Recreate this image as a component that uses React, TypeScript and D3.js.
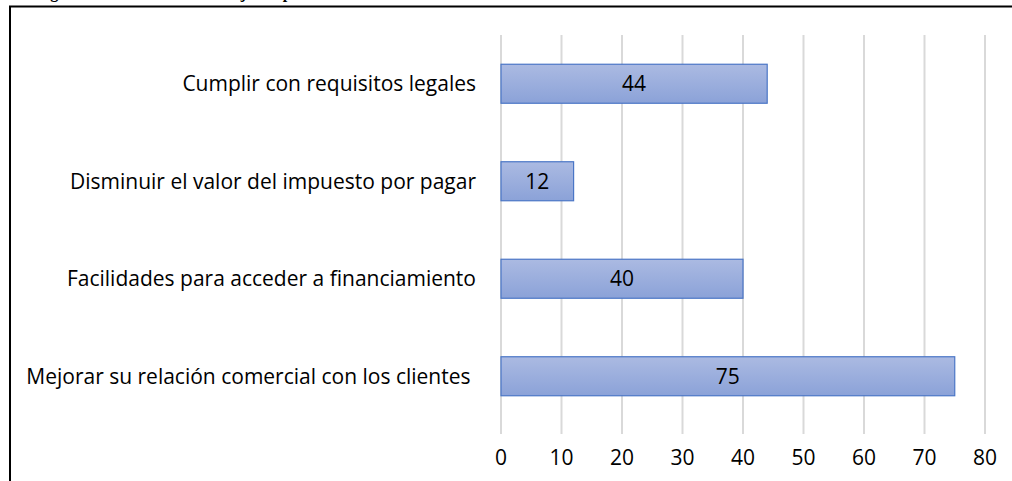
import React, { useEffect, useRef } from 'react';
import * as d3 from 'd3';

// categories (top to bottom) and their values
const categories = [
  'Cumplir con requisitos legales',
  'Disminuir el valor del impuesto por pagar',
  'Facilidades para acceder a financiamiento',
  'Mejorar su relación comercial con los clientes ',
];
const values = [44, 12, 40, 75];
const xTicks = [0, 10, 20, 30, 40, 50, 60, 70, 80];

const App = () => {
  const chartRef = useRef<SVGSVGElement>(null);

  useEffect(() => {
    drawChart();
  }, []);

  const drawChart = () => {
    const width = 1012;
    const height = 481;
    const svg = d3.select(chartRef.current);
    svg.selectAll('*').remove();

    const font = '"Open Sans", "Noto Sans", sans-serif';
    const fs = 21;

    // caption above, clipped by the page top
    svg.append('text')
      .attr('x', 36)
      .attr('y', -2)
      .attr('font-family', '"Liberation Serif", serif')
      .attr('font-weight', 'bold')
      .attr('font-size', 16)
      .text('Figura 10. Beneficios de manejar impuestos');

    // frame lines
    svg.append('line')
      .attr('x1', 9).attr('x2', width)
      .attr('y1', 6.5).attr('y2', 6.5)
      .attr('stroke', '#000').attr('stroke-width', 2);
    svg.append('line')
      .attr('x1', 10).attr('x2', 10)
      .attr('y1', 6).attr('y2', height)
      .attr('stroke', '#000').attr('stroke-width', 2);

    const x = d3.scaleLinear().domain([0, 80]).range([501, 985]);
    const y = d3.scaleBand()
      .domain(categories)
      .range([35, 425])
      .paddingInner(0.6)
      .paddingOuter(0.3);

    const defs = svg.append('defs');
    defs.append('linearGradient')
      .attr('id', 'bar-gradient')
      .attr('x1', '0%').attr('x2', '0%')
      .attr('y1', '0%').attr('y2', '100%')
      .html(`
        <stop offset="0%" stop-color="#abbae2" />
        <stop offset="100%" stop-color="#8ba2d8" />
      `);

    // gridlines
    svg.selectAll('.grid')
      .data(xTicks)
      .enter()
      .append('line')
      .attr('class', 'grid')
      .attr('x1', d => x(d)).attr('x2', d => x(d))
      .attr('y1', 35).attr('y2', 434)
      .attr('stroke', '#d9d9d9')
      .attr('stroke-width', 2);

    // bars
    svg.selectAll('.bar')
      .data(values)
      .enter()
      .append('rect')
      .attr('class', 'bar')
      .attr('x', x(0))
      .attr('y', (d, i) => y(categories[i])!)
      .attr('width', d => x(d) - x(0))
      .attr('height', y.bandwidth())
      .attr('fill', 'url(#bar-gradient)')
      .attr('stroke', '#4a76c6')
      .attr('stroke-width', 1.2);

    // value labels
    svg.selectAll('.val')
      .data(values)
      .enter()
      .append('text')
      .attr('class', 'val')
      .attr('x', d => (x(0) + x(d)) / 2)
      .attr('y', (d, i) => y(categories[i])! + y.bandwidth() / 2)
      .attr('dy', '0.36em')
      .attr('text-anchor', 'middle')
      .attr('font-family', font)
      .attr('font-size', fs)
      .attr('fill', '#000')
      .text(d => d);

    // category labels
    svg.selectAll('.cat')
      .data(categories)
      .enter()
      .append('text')
      .attr('class', 'cat')
      .attr('x', 476)
      .attr('y', d => y(d)! + y.bandwidth() / 2)
      .attr('dy', '0.36em')
      .attr('text-anchor', 'end')
      .attr('font-family', font)
      .attr('font-size', fs)
      .attr('fill', '#000')
      .style('white-space', 'pre')
      .text(d => d);

    // x tick labels
    svg.selectAll('.tick-label')
      .data(xTicks)
      .enter()
      .append('text')
      .attr('class', 'tick-label')
      .attr('x', d => x(d))
      .attr('y', 457)
      .attr('dy', '0.36em')
      .attr('text-anchor', 'middle')
      .attr('font-family', font)
      .attr('font-size', fs)
      .attr('fill', '#000')
      .text(d => d);
  };

  return (
    <div style={{ position: 'fixed', left: 0, top: 0, width: 1012, height: 481, background: '#fff' }}>
      <svg ref={chartRef} width={1012} height={481} style={{ display: 'block' }}></svg>
    </div>
  );
};

export default App;
